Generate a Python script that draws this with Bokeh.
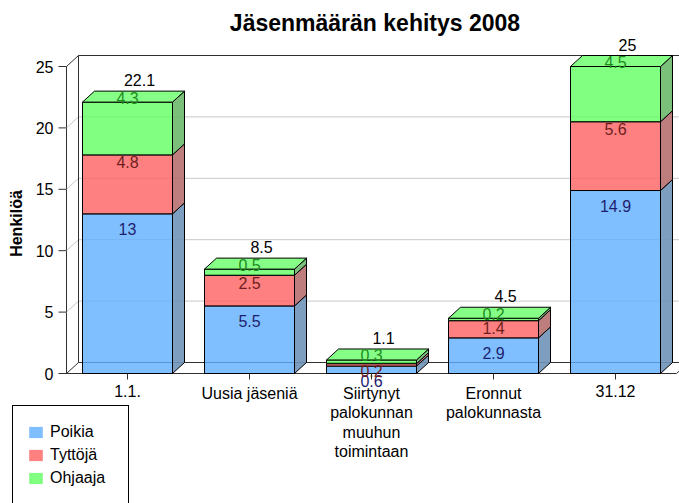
import math
from bokeh.plotting import figure
from bokeh.models import ColumnDataSource, Range1d, Legend, LegendItem
from bokeh.core.properties import value
from bokeh.embed import file_html
from bokeh.resources import INLINE

# ---------------- data ----------------
categories = ["1.1.", "Uusia jäseniä", "Siirtynyt\npalokunnan\nmuuhun\ntoimintaan",
              "Eronnut\npalokunnasta", "31.12"]
series_names = ["Poikia", "Tyttöjä", "Ohjaaja"]
poikia = [13, 5.5, 0.6, 2.9, 14.9]
tyttoja = [4.8, 2.5, 0.2, 1.4, 5.6]
ohjaaja = [4.3, 0.5, 0.3, 0.2, 4.5]
y_ticks = [0, 5, 10, 15, 20, 25]
title_text = "Jäsenmäärän kehitys 2008"
y_label = "Henkilöä"

# ---------------- geometry / style ----------------
FONT = "Liberation Sans"
W, H = 679, 503
AXIS_PX = 66          # pixel column of the front value axis
PX_X = 122.0          # pixels per category
PX_Y = 12.28          # pixels per unit
ZERO_PX = 373         # pixel row of value 0
DX = 12 / PX_X        # 3D depth in x
DY = 11 / PX_Y        # 3D depth in y
HW = 45 / PX_X        # half bar width
n_cat = len(categories)
ax_x = -0.5
xs0 = ax_x - AXIS_PX / PX_X
xs1 = ax_x + (W - AXIS_PX) / PX_X
ys1 = ZERO_PX / PX_Y
ys0 = -(H - ZERO_PX) / PX_Y
y_top = y_ticks[-1]

front_colors = ["#60AFFF", "#FF6060", "#60FF60"]
FRONT_ALPHA = 0.8
side_colors = ["#7094B8", "#B87070", "#6CB86C"]
top_colors = ["#80C0FF", "#FF8080", "#80FF80"]
label_colors = ["#1E1E6E", "#6E1E1E", "#1E8C1E"]
label_off_px = [-15, -7.5, 4.5]
DARK = "#303030"
GRID = "#C8C8C8"

p = figure(width=W, height=H, x_range=Range1d(xs0, xs1), y_range=Range1d(ys0, ys1),
           output_backend="svg", toolbar_location=None, x_axis_location=None,
           y_axis_location=None, min_border=0)
p.background_fill_color = "white"
p.border_fill_color = "white"
p.outline_line_color = None
p.grid.visible = False

# ---------------- value axis (front) ----------------
n_t = len(y_ticks)
p.segment(x0=[ax_x], y0=[y_ticks[0]], x1=[ax_x], y1=[y_ticks[-1]], line_color=DARK)
p.segment(x0=[ax_x - 8 / PX_X] * n_t, y0=y_ticks, x1=[ax_x] * n_t, y1=y_ticks, line_color=DARK)
p.text(x=[ax_x - 13 / PX_X] * n_t, y=y_ticks, text=[str(t) for t in y_ticks],
       text_align="right", text_baseline="middle", text_font=value(FONT),
       text_font_size="16px", text_color="black")
p.text(x=[ax_x - 50 / PX_X], y=[(ZERO_PX - 223) / PX_Y], text=[y_label], angle=math.pi / 2,
       text_align="center", text_baseline="middle", text_font=value(FONT),
       text_font_size="16px", text_font_style="bold", text_color="black")

# ---------------- walls / floor ----------------
right_edge = n_cat - 0.5
inner = y_ticks[1:-1]
p.segment(x0=[ax_x + DX] * len(inner), y0=[v + DY for v in inner],
          x1=[right_edge + DX] * len(inner), y1=[v + DY for v in inner],
          line_color=GRID, line_width=1)
p.segment(x0=[ax_x] * len(inner), y0=inner, x1=[ax_x + DX] * len(inner),
          y1=[v + DY for v in inner], line_color=GRID, line_width=1)
ex0 = [ax_x + DX, ax_x + DX, ax_x + DX, ax_x, ax_x, ax_x, right_edge]
ey0 = [DY, y_top + DY, DY, 0, y_top, 0, 0]
ex1 = [right_edge + DX, right_edge + DX, ax_x + DX, ax_x + DX, ax_x + DX, right_edge, right_edge + DX]
ey1 = [DY, y_top + DY, y_top + DY, DY, y_top + DY, 0, DY]
p.segment(x0=ex0, y0=ey0, x1=ex1, y1=ey1, line_color=DARK, line_width=1)

# ---------------- bars ----------------
series = [poikia, tyttoja, ohjaaja]
centers = list(range(n_cat))
bottoms = [0.0] * n_cat
tops_all = []
front_renderers = []
for si, vals in enumerate(series):
    tops = [b + v for b, v in zip(bottoms, vals)]
    src = ColumnDataSource(dict(left=[c - HW for c in centers], right=[c + HW for c in centers],
                                bottom=bottoms, top=tops))
    r = p.quad(left="left", right="right", bottom="bottom", top="top", source=src,
               fill_color=front_colors[si], fill_alpha=FRONT_ALPHA, line_color=None)
    front_renderers.append(r)
    p.quad(left="left", right="right", bottom="bottom", top="top", source=src,
           fill_color=None, line_color="black", line_width=1)
    sxs = [[c + HW, c + HW + DX, c + HW + DX, c + HW] for c in centers]
    sys_ = [[b, b + DY, t + DY, t] for b, t in zip(bottoms, tops)]
    p.patches(xs=sxs, ys=sys_, fill_color=side_colors[si], fill_alpha=0.9,
              line_color="black", line_width=1)
    tops_all.append(tops)
    bottoms = tops

last = len(series) - 1
txs = [[c - HW, c + HW, c + HW + DX, c - HW + DX] for c in centers]
tys = [[t, t, t + DY, t + DY] for t in tops_all[last]]
p.patches(xs=txs, ys=tys, fill_color=top_colors[last], fill_alpha=0.95,
          line_color="black", line_width=1)

# ---------------- value labels ----------------
def fmt(v):
    return ("%.1f" % v).rstrip("0").rstrip(".")

for si, vals in enumerate(series):
    p.text(x=centers, y=[t + label_off_px[si] / PX_Y for t in tops_all[si]],
           text=[fmt(v) for v in vals], text_align="center", text_baseline="middle",
           text_font=value(FONT), text_font_size="16px", text_color=label_colors[si])

totals = tops_all[last]
p.text(x=[c + DX for c in centers], y=[t + DY + 11 / PX_Y for t in totals],
       text=[fmt(t) for t in totals], text_align="center", text_baseline="middle",
       text_font=value(FONT), text_font_size="16px", text_color="black")

# ---------------- category axis ----------------
p.segment(x0=centers, y0=[0] * n_cat, x1=centers, y1=[-6 / PX_Y] * n_cat,
          line_color=DARK, line_width=1)
p.text(x=centers, y=[-11 / PX_Y] * n_cat, text=categories, text_align="center",
       text_baseline="top", text_line_height=1.15, text_font=value(FONT),
       text_font_size="16px", text_color="black")

# ---------------- title ----------------
p.text(x=[ax_x + (W - AXIS_PX) / 2 / PX_X + 2 / PX_X], y=[(ZERO_PX - 22) / PX_Y], text=[title_text],
       text_align="center", text_baseline="middle", text_font=value(FONT),
       text_font_size="23px", text_font_style="bold", text_color="black")

# ---------------- legend ----------------
items = [LegendItem(label=name, renderers=[front_renderers[si]])
         for si, name in enumerate(series_names)]
legend = Legend(items=items, location=(12, -1), padding=14, spacing=0, label_height=23,
                glyph_width=17, glyph_height=14, label_standoff=6, label_width=64,
                border_line_color="black", border_line_width=1, border_line_alpha=1.0,
                margin=0, label_text_font=FONT, label_text_font_size="16px",
                label_text_color="black",
                background_fill_color="white", background_fill_alpha=1)
p.add_layout(legend)

open("out.html", "w").write(file_html(p, INLINE))
